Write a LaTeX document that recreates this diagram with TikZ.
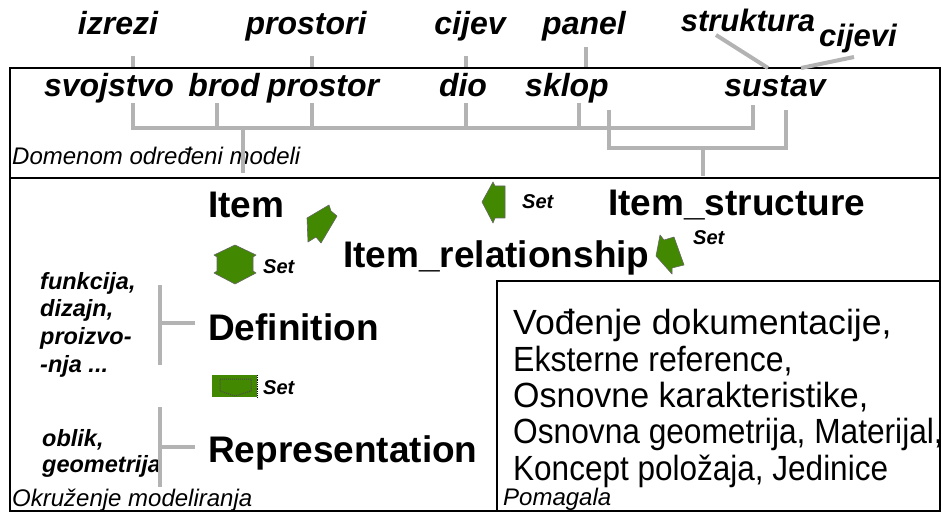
\documentclass[tikz,border=0pt]{standalone}
\usepackage{fontspec}
\usepackage{graphicx}
\setmainfont{Liberation Sans}
\definecolor{setgreen}{RGB}{66,136,0}
\definecolor{linegray}{RGB}{179,179,179}
\newcommand{\fitline}[2]{\scalebox{#1}[1.06]{#2}}
\begin{document}
\begin{tikzpicture}[x=1pt,y=-1pt,
  frame/.style={draw=black,line width=1.6pt},
  bar/.style={draw=linegray,line width=4pt},
  term/.style={font=\fontsize{32}{32}\selectfont\bfseries\itshape,inner sep=0pt,anchor=base},
  entity/.style={font=\fontsize{37}{37}\selectfont\bfseries,inner sep=0pt,anchor=base west},
  setlbl/.style={font=\fontsize{20}{20}\selectfont\bfseries\itshape,inner sep=0pt,anchor=base west},
  note/.style={font=\fontsize{23.5}{23.5}\selectfont\bfseries\itshape,inner sep=0pt,anchor=base west},
  caption/.style={font=\fontsize{24}{24}\selectfont\itshape,inner sep=0pt,anchor=base west},
  aid/.style={font=\fontsize{33}{33}\selectfont,inner sep=0pt,anchor=base west},
  relsym/.style={fill=setgreen,draw=black!60,line width=0.6pt,line join=round}]

\useasboundingbox (0,0) rectangle (942,513);

% frames
\draw[frame] (10,68) rectangle (940,178);
\draw[frame] (10,178) rectangle (940,511);
\draw[frame] (497,281) rectangle (940,511);

% domain terms above the frame
\node[term] (izrezi)   at (118,35) {izrezi};
\node[term] (prostori) at (306,35) {prostori};
\node[term] (cijev)    at (470,35) {cijev};
\node[term] (panel)    at (584,35) {panel};
\node[term,font=\fontsize{31}{31}\selectfont\bfseries\itshape] (struktura) at (748,32) {struktura};
\node[term,font=\fontsize{31}{31}\selectfont\bfseries\itshape] (cijevi)    at (858,47) {cijevi};

% domain terms inside the frame
\node[term] (svojstvo) at (109,97) {svojstvo};
\node[term] (brod)     at (224,97) {brod};
\node[term] (prostor)  at (323,97) {prostor};
\node[term] (dio)      at (463,97) {dio};
\node[term] (sklop)    at (567,97) {sklop};
\node[term] (sustav)   at (775,97) {sustav};

\node[caption] (dom) at (12,165) {Domenom određeni modeli};

% links from the upper terms into the frame
\coordinate (izTop) at (133,56);   \coordinate (izBot) at (133,67);
\coordinate (prTop) at (312,56);   \coordinate (prBot) at (312,67);
\coordinate (ciTop) at (466,56);   \coordinate (ciBot) at (466,67);
\coordinate (paTop) at (586,47);   \coordinate (paBot) at (586,67);
\coordinate (stTop) at (716,35);   \coordinate (stBot) at (768,68);
\coordinate (cvTop) at (854,57);   \coordinate (cvBot) at (801,68);
\draw[bar] (izTop) -- (izBot);
\draw[bar] (prTop) -- (prBot);
\draw[bar] (ciTop) -- (ciBot);
\draw[bar] (paTop) -- (paBot);
\draw[bar] (stTop) -- (stBot);
\draw[bar] (cvTop) -- (cvBot);

% first bracket: all terms
\draw[bar] (133,103) -- (133,128) -- (753,128) -- (753,105);
\draw[bar] (217,103) -- (217,128);
\draw[bar] (312,103) -- (312,128);
\draw[bar] (466,103) -- (466,128);
\draw[bar] (579,103) -- (579,128);
\draw[bar] (243,128) -- (243,173);

% second bracket: sklop and sustav
\draw[bar] (609,110) -- (609,148) -- (786,148) -- (786,110);
\draw[bar] (703,148) -- (703,176);

% modelling environment
\node[entity] (item)  at (208,218) {Item};
\node[entity] (istr)  at (608,215) {Item\_structure};
\node[entity] (irel)  at (343,267) {Item\_relationship};
\node[entity] (defn)  at (208,340) {Definition};
\node[entity] (repr)  at (208,462) {Representation};

\node[setlbl] (set1) at (263,273) {Set};
\node[setlbl] (set2) at (522,209) {Set};
\node[setlbl] (set3) at (693,244) {Set};
\node[setlbl] (set4) at (263,394) {Set};

% relation symbols
\draw[relsym] (235,245) -- (256,255) -- (253,257) -- (253,271) -- (256,273)
  -- (235,284) -- (214,273) -- (217,271) -- (217,257) -- (214,255) -- cycle;
\draw[relsym] (307,218) -- (329,205) -- (331,211) -- (337,216) -- (321,243)
  -- (316,237) -- (308,242) -- cycle;
\draw[relsym] (482,202) -- (493,182) -- (495,186) -- (505,186) -- (505,218)
  -- (495,218) -- (493,223) -- cycle;
\draw[relsym] (660,235) -- (664,240) -- (674,237) -- (684,265) -- (672,268)
  -- (672,274) -- (656,256) -- cycle;
\fill[setgreen] (212,375) rectangle (257,397);
\draw[black!70,densely dotted,line width=1pt] (220,379) -- (251,379) -- (251,391)
  -- (235,396) -- (220,391) -- cycle;
\draw[black,densely dotted,line width=0.8pt] (257,375) -- (257,397);

% aspects of the definition and the representation
\node[note] (n1) at (40,289) {funkcija,};
\node[note] (n2) at (40,316) {dizajn,};
\node[note] (n3) at (40,344) {proizvo-};
\node[note] (n4) at (40,372) {-nja ...};
\node[note] (n5) at (42,446) {oblik,};
\node[note] (n6) at (42,472) {geometrija};

\draw[bar] (160,285) -- (160,365);
\draw[bar] (160,323) -- (195,323);
\draw[bar] (160,407) -- (160,487);
\draw[bar] (160,447) -- (195,447);

\node[caption] (env) at (12,506) {Okruženje modeliranja};

% resources
\node[aid] (a1) at (513,334) {\fitline{1.08}{Vođenje dokumentacije,}};
\node[aid] (a2) at (513,371) {\fitline{0.97}{Eksterne reference,}};
\node[aid] (a3) at (513,407) {\fitline{1.03}{Osnovne karakteristike,}};
\node[aid] (a4) at (513,443) {\fitline{0.96}{Osnovna geometrija, Materijal,}};
\node[aid] (a5) at (513,480) {\fitline{0.955}{Koncept položaja, Jedinice}};
\node[caption] (pom) at (503,505) {Pomagala};
\end{tikzpicture}
\end{document}
